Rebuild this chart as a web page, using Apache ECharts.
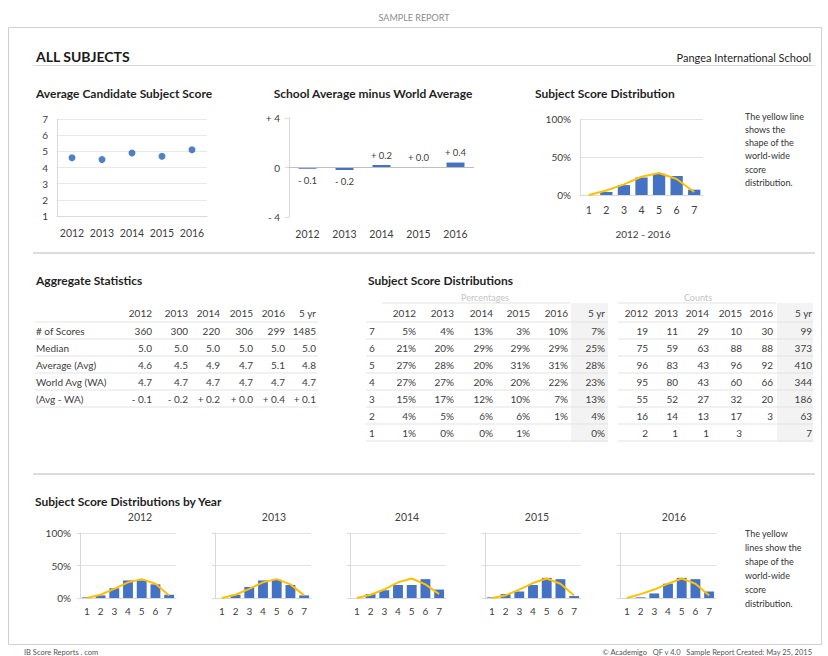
<!DOCTYPE html>
<html><head><meta charset="utf-8">
<script src="https://cdn.jsdelivr.net/npm/echarts@6/dist/echarts.min.js"></script>
<style>html,body{margin:0;padding:0;background:#fff}#c{width:828px;height:656px}</style>
</head><body><div id="c"></div>
<script>
// ---------------- data ----------------
const years = ['2012', '2013', '2014', '2015', '2016'];
const statCols = ['2012', '2013', '2014', '2015', '2016', '5 yr'];
const statRowLabels = ['# of Scores', 'Median', 'Average (Avg)', 'World Avg (WA)', '(Avg - WA)'];
const numScores = [360, 300, 220, 306, 299, 1485];
const medians = [5.0, 5.0, 5.0, 5.0, 5.0, 5.0];
const averages = [4.6, 4.5, 4.9, 4.7, 5.1, 4.8];
const worldAvgs = [4.7, 4.7, 4.7, 4.7, 4.7, 4.7];
const avgMinusWA = [-0.1, -0.2, 0.2, 0.0, 0.4, 0.1];

const scores = ['1', '2', '3', '4', '5', '6', '7'];
// percentages by score 1..7 (null = blank cell)
const pct2012 = [1, 4, 15, 27, 27, 21, 5];
const pct2013 = [0, 5, 17, 27, 28, 20, 4];
const pct2014 = [0, 6, 12, 20, 20, 29, 13];
const pct2015 = [1, 6, 10, 20, 31, 29, 3];
const pct2016 = [null, 1, 7, 22, 31, 29, 10];
const pct5yr = [0, 4, 13, 23, 28, 25, 7];
// counts by score 1..7
const cnt2012 = [2, 16, 55, 95, 96, 75, 19];
const cnt2013 = [1, 14, 52, 80, 83, 59, 11];
const cnt2014 = [1, 13, 27, 43, 43, 63, 29];
const cnt2015 = [3, 17, 32, 60, 96, 88, 10];
const cnt2016 = [null, 3, 20, 66, 92, 88, 30];
const cnt5yr = [7, 63, 186, 344, 410, 373, 99];
// world-wide distribution shape (yellow lines)
const world5yr = [0, 6, 14, 24, 29, 21, 4];
const world2012 = [0, 5, 14, 24, 29, 22, 4];
const world2013 = [0, 5, 14, 24, 29, 21, 4];
const world2014 = [0, 5, 13, 24, 30, 21, 6];
const world2015 = [0, 4, 13, 23, 30, 22, 4];
const world2016 = [0, 6, 13, 22, 30, 22, 4];

const pctByYear = [pct2012, pct2013, pct2014, pct2015, pct2016];
const cntByYear = [cnt2012, cnt2013, cnt2014, cnt2015, cnt2016];
const worldByYear = [world2012, world2013, world2014, world2015, world2016];

// ---------------- styling ----------------
const FONT = 'Lato, "Open Sans", sans-serif';
const BLUE = '#4472C4';
const GOLD = '#FFC000';
const GRIDC = '#d9d9d9';
const TXT = '#404040';

function fmtDiff(v) {
  return (v < 0 ? '- ' : '+ ') + Math.abs(v).toFixed(1);
}

const G = [];
function txt(x, y, s, o) {
  o = o || {};
  G.push({
    type: 'text', x: x, y: y, silent: true, z: 10,
    style: {
      text: s, fill: o.fill || TXT, font: (o.font || '10px') + ' ' + FONT,
      align: o.align || 'left', verticalAlign: 'middle',
      textAlign: o.align || 'left', textVerticalAlign: 'middle'
    }
  });
}
function hline(x1, x2, y, c, w) {
  G.push({ type: 'line', silent: true, z: 5, shape: { x1: x1, y1: y, x2: x2, y2: y }, style: { stroke: c || GRIDC, lineWidth: w || 1 } });
}
function box(x, y, w, h, fill) {
  G.push({ type: 'rect', silent: true, z: 1, shape: { x: x, y: y, width: w, height: h }, style: { fill: fill } });
}
const TITLE = 'bold 12px';

// page frame
txt(414, 17, 'SAMPLE REPORT', { align: 'center', font: '9px', fill: '#8c8c8c' });
G.push({ type: 'rect', silent: true, z: 1, shape: { x: 8.5, y: 27.5, width: 813, height: 617 }, style: { fill: 'none', stroke: '#d0d0d0', lineWidth: 1 } });
txt(36, 56, 'ALL SUBJECTS', { font: 'bold 14px', fill: '#1a1a1a' });
txt(811, 57, 'Pangea International School', { font: '11px', fill: '#262626', align: 'right' });
hline(33, 815, 65.5, '#d9d9d9', 1);

// top chart titles
txt(36, 93, 'Average Candidate Subject Score', { font: TITLE, fill: '#1f1f1f' });
txt(373, 93, 'School Average minus World Average', { font: TITLE, fill: '#1f1f1f', align: 'center' });
txt(535, 93, 'Subject Score Distribution', { font: TITLE, fill: '#1f1f1f' });
['The yellow line', 'shows the', 'shape of the', 'world-wide', 'score', 'distribution.'].forEach(function (s, i) {
  txt(745, 116 + i * 13.3, s, { font: '9px', fill: '#333' });
});
txt(643, 234, '2012 - 2016', { align: 'center', font: '10px' });

hline(33, 815, 253, '#dcdcdc', 2);

// Aggregate statistics table
txt(36, 280, 'Aggregate Statistics', { font: TITLE, fill: '#1f1f1f' });
const aggX = [152, 188, 220, 253, 285, 316];
statCols.forEach(function (c, j) { txt(aggX[j], 313, c, { align: 'right' }); });
const aggRows = [
  numScores.map(String),
  medians.map(function (v) { return v.toFixed(1); }),
  averages.map(function (v) { return v.toFixed(1); }),
  worldAvgs.map(function (v) { return v.toFixed(1); }),
  avgMinusWA.map(fmtDiff)
];
for (let i = 0; i <= 5; i++) hline(35, 318, 322 + 17 * i, '#e3e3e3', 1);
aggRows.forEach(function (row, i) {
  const y = 330.5 + 17 * i;
  txt(36, y, statRowLabels[i]);
  row.forEach(function (s, j) { txt(aggX[j], y, s, { align: 'right' }); });
});

// Subject score distributions tables
txt(368, 280, 'Subject Score Distributions', { font: TITLE, fill: '#1f1f1f' });
txt(485, 297, 'Percentages', { align: 'center', font: '9px', fill: '#c4c4c4' });
txt(698, 297, 'Counts', { align: 'center', font: '9px', fill: '#c4c4c4' });
hline(382, 570, 303, '#e3e3e3', 1);
hline(618, 776, 303, '#e3e3e3', 1);
box(571, 303, 37, 139, '#f3f3f3');
box(777, 303, 36, 139, '#f3f3f3');
const pctX = [416, 454, 493, 530, 568, 605];
const cntX = [648, 678, 709, 742, 773, 812];
statCols.forEach(function (c, j) {
  txt(pctX[j], 313, c, { align: 'right' });
  txt(cntX[j], 313, c, { align: 'right' });
});
for (let k = 0; k <= 7; k++) {
  hline(366, 608, 322 + 17 * k, '#e3e3e3', 1);
  hline(618, 813, 322 + 17 * k, '#e3e3e3', 1);
}
const pctCols = pctByYear.concat([pct5yr]);
const cntCols = cntByYear.concat([cnt5yr]);
for (let k = 0; k < 7; k++) {
  const s = 6 - k; // score index (7 down to 1)
  const y = 330.5 + 17 * k;
  txt(369, y, scores[s]);
  pctCols.forEach(function (col, j) {
    if (col[s] !== null) txt(pctX[j], y, col[s] + '%', { align: 'right' });
  });
  cntCols.forEach(function (col, j) {
    if (col[s] !== null) txt(cntX[j], y, String(col[s]), { align: 'right' });
  });
}

hline(33, 815, 474, '#dcdcdc', 2);

// bottom section
txt(35, 501, 'Subject Score Distributions by Year', { font: TITLE, fill: '#1f1f1f' });
const smallLeft = [80, 215, 350, 485, 620];
const smallTitleX = [140, 274, 407, 537, 674];
years.forEach(function (y, i) { txt(smallTitleX[i], 517, y, { align: 'center', font: '10.5px' }); });
['The yellow', 'lines show the', 'shape of the', 'world-wide', 'score', 'distribution.'].forEach(function (s, i) {
  txt(745, 533 + i * 14, s, { font: '9px', fill: '#333' });
});

// footer
txt(24, 652, 'IB Score Reports . com', { font: '7.5px', fill: '#555' });
txt(812, 652, '\u00A9 Academigo   QF v 4.0   Sample Report Created: May 25, 2015', { font: '7.5px', fill: '#555', align: 'right' });

// ---------------- charts ----------------
const grids = [
  { left: 57, top: 119, width: 150, height: 97 },
  { left: 289, top: 118, width: 185, height: 99 },
  { left: 580, top: 119, width: 123, height: 76 }
];
smallLeft.forEach(function (l) { grids.push({ left: l, top: 533, width: 96, height: 65 }); });

const axLabel = { color: TXT, fontFamily: FONT, fontSize: 10, interval: 0 };
const xAxes = [
  { gridIndex: 0, type: 'category', data: years, axisLine: { lineStyle: { color: GRIDC } }, axisTick: { show: false }, axisLabel: Object.assign({}, axLabel, { margin: 11, fontSize: 10.5 }) },
  { gridIndex: 1, type: 'category', data: years, axisLine: { show: false, onZero: false }, axisTick: { show: false }, axisLabel: Object.assign({}, axLabel, { margin: 11, fontSize: 10.5 }) },
  { gridIndex: 2, type: 'category', data: scores, axisLine: { lineStyle: { color: GRIDC } }, axisTick: { show: false }, axisLabel: Object.assign({}, axLabel, { margin: 9, fontSize: 10.5 }) }
];
const yAxes = [
  { gridIndex: 0, type: 'value', min: 1, max: 7, interval: 1, axisLine: { show: true, lineStyle: { color: GRIDC } }, axisTick: { show: false }, splitLine: { lineStyle: { color: '#e8e8e8' } }, axisLabel: Object.assign({}, axLabel, { margin: 9 }) },
  { gridIndex: 1, type: 'value', min: -4, max: 4, interval: 4, axisLine: { show: true, lineStyle: { color: GRIDC } }, axisTick: { show: true, length: 4, lineStyle: { color: GRIDC } }, splitLine: { show: false }, axisLabel: Object.assign({}, axLabel, { margin: 9, formatter: function (v) { return v === 0 ? '0' : fmtDiff(v).replace('.0', ''); } }) },
  { gridIndex: 2, type: 'value', min: 0, max: 100, interval: 50, axisLine: { show: true, lineStyle: { color: GRIDC } }, axisTick: { show: false }, splitLine: { lineStyle: { color: '#e3e3e3' } }, axisLabel: Object.assign({}, axLabel, { margin: 9, formatter: '{value}%' }) }
];
const series = [
  { type: 'scatter', xAxisIndex: 0, yAxisIndex: 0, data: averages.slice(0, 5), symbolSize: 7, itemStyle: { color: '#2463b0' } },
  {
    type: 'bar', xAxisIndex: 1, yAxisIndex: 1, barWidth: 18, itemStyle: { color: BLUE },
    data: avgMinusWA.slice(0, 5).map(function (v) {
      return { value: v, label: { position: v < 0 ? 'bottom' : 'top', distance: v < 0 ? 7 : 5 } };
    }),
    label: { show: true, color: TXT, fontFamily: FONT, fontSize: 9.5, formatter: function (p) { return fmtDiff(p.value); } },
    markLine: { silent: true, symbol: 'none', label: { show: false }, lineStyle: { color: '#bfbfbf', type: 'solid', width: 1 }, data: [{ yAxis: 0 }] }
  },
  { type: 'bar', xAxisIndex: 2, yAxisIndex: 2, data: pct5yr, barWidth: '70%', itemStyle: { color: BLUE } },
  { type: 'line', xAxisIndex: 2, yAxisIndex: 2, data: world5yr, symbol: 'none', lineStyle: { color: GOLD, width: 2 }, z: 5 }
];
years.forEach(function (y, i) {
  const gi = 3 + i;
  xAxes.push({ gridIndex: gi, type: 'category', data: scores, axisLine: { lineStyle: { color: GRIDC } }, axisTick: { show: false }, axisLabel: Object.assign({}, axLabel, { margin: 8, fontSize: 10 }) });
  yAxes.push({ gridIndex: gi, type: 'value', min: 0, max: 100, interval: 50, axisLine: { show: true, lineStyle: { color: GRIDC } }, axisTick: { show: true, length: 3, lineStyle: { color: GRIDC } }, splitLine: { lineStyle: { color: '#e3e3e3' } }, axisLabel: Object.assign({}, axLabel, { show: i === 0, margin: 9, formatter: '{value}%' }) });
  series.push({ type: 'bar', xAxisIndex: gi, yAxisIndex: gi, data: pctByYear[i], barWidth: '72%', itemStyle: { color: BLUE } });
  series.push({ type: 'line', xAxisIndex: gi, yAxisIndex: gi, data: worldByYear[i], symbol: 'none', lineStyle: { color: GOLD, width: 2 }, z: 5 });
});

const chart = echarts.init(document.getElementById('c'), null, { renderer: 'svg', width: 828, height: 656 });
chart.setOption({
  animation: false,
  backgroundColor: '#fff',
  textStyle: { fontFamily: FONT },
  grid: grids,
  xAxis: xAxes,
  yAxis: yAxes,
  series: series,
  graphic: { elements: G }
});
</script>
</body></html>
